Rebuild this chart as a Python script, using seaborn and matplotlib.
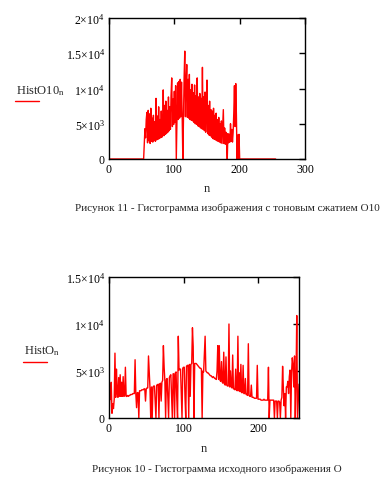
import matplotlib
matplotlib.use("Agg")
import matplotlib.pyplot as plt
from matplotlib.lines import Line2D
import numpy as np
import pandas as pd
import seaborn as sns

# HistO10 - histogram after tonal compression (n = 0..255)
hist_o10 = ([0] * 54 +
    [2200, 4300, 3000, 5600, 6600, 2300, 6900, 2600, 6400, 2200,
     7200, 2500, 5800, 2400, 6200, 2700, 5300, 2500, 8600, 2700,
     6100, 2800, 7400, 2900, 5600, 3000, 6800, 3100, 3400, 9800,
     3300, 7600, 3500, 8200, 3600, 6900, 3800, 8800, 4000, 7400,
     4200, 9000, 11500, 4600, 8500, 4900, 9600, 5200, 10400, 0,
     5400, 10800, 5600, 11000, 5800, 11300, 6000, 10900, 6200, 0,
     6100, 11600, 15300, 6000, 10400, 13400, 5900, 11300, 5800, 12000,
     5600, 9800, 5500, 10600, 5400, 9400, 5200, 10500, 5000, 9000,
     4900, 11500, 4700, 8800, 4600, 9300, 4400, 8600, 4300, 13000,
     4200, 8800, 4000, 9500, 3800, 8000, 11200, 3600, 7600, 3400,
     8200, 3300, 7000, 3100, 6800, 2900, 7200, 2800, 6200, 2700,
     6500, 2600, 5600, 2500, 5900, 2400, 5000, 2300, 5400, 2200,
     4800, 7000, 2200, 4400, 2100, 3800, 2200, 0, 3600, 2300,
     3500, 2400, 5000, 2500, 4200, 2400, 3800, 6500, 10400, 4600,
     10700, 6200, 0, 3400, 0, 3500] +
    [0] * 56)

# HistO - histogram of the source image (n = 0..255)
hist_o = [
    0, 1900, 2000, 3800, 500, 1500, 1000, 2000, 6900, 2200,
    5200, 2800, 2200, 4300, 2300, 4600, 2300, 3800, 2300, 4400,
    2300, 2400, 5400, 2300, 2300, 2400, 2300, 2400, 2400, 2500,
    2500, 2500, 2600, 2600, 2600, 6200, 2600, 1100, 2700, 2700,
    0, 2900, 2900, 2900, 3000, 3000, 3000, 3100, 3100, 1800,
    3100, 3200, 3200, 6600, 4900, 3200, 0, 3300, 0, 3300,
    3400, 3400, 1800, 0, 3500, 3500, 3600, 0, 3600, 3700,
    1800, 3800, 4000, 7700, 5400, 3900, 0, 4100, 4200, 2000,
    0, 4300, 4500, 4600, 2200, 0, 4700, 4700, 0, 4800,
    4900, 2000, 0, 8700, 5100, 5200, 5200, 2400, 0, 5300,
    5400, 5400, 2200, 0, 5500, 5600, 5600, 0, 5700, 2300,
    5700, 5800, 9600, 7600, 0, 5800, 5800, 5800, 5700, 5600,
    5500, 5400, 5300, 5300, 5200, 0, 5000, 4900, 6800, 8700,
    5000, 4900, 4800, 4800, 4700, 4600, 4500, 4500, 4400, 4300,
    4400, 4300, 4200, 4200, 4100, 5000, 7700, 4100, 7700, 4000,
    3900, 6000, 3800, 3700, 7000, 3600, 3500, 6500, 3500, 3400,
    3400, 10000, 3300, 5000, 3300, 3200, 6700, 3100, 3100, 3000,
    5200, 3000, 2900, 8700, 2900, 4800, 2800, 5700, 2700, 2700,
    5600, 2600, 2600, 4200, 2500, 2500, 2400, 7900, 2400, 2300,
    2300, 3500, 2200, 2200, 2200, 2100, 2100, 2100, 2100, 5600,
    2000, 2000, 2000, 2000, 1900, 1900, 1900, 1900, 2000, 1900,
    1900, 1900, 1900, 1900, 5400, 0, 1900, 1900, 1900, 1900,
    1900, 1900, 0, 1800, 1800, 1800, 0, 1800, 1800, 1700,
    0, 1900, 2200, 5500, 3200, 1300, 2600, 0, 3300, 3300,
    3900, 2600, 4400, 5100, 0, 4800, 6400, 5600, 3300, 6600,
    0, 4000, 10900, 0, 1900, 3600]

n_vals = list(range(256))

top_yticks = [0, 5000, 10000, 15000, 20000]
top_ylabels = ["0", r"$\mathregular{5{\times}10^{3}}$", r"$\mathregular{1{\times}10^{4}}$",
               r"$\mathregular{1.5{\times}10^{4}}$", r"$\mathregular{2{\times}10^{4}}$"]
top_xticks = [0, 100, 200, 300]
bot_yticks = [0, 5000, 10000, 15000]
bot_ylabels = top_ylabels[:4]
bot_xticks = [0, 100, 200]

caption_top = "Рисунок 11 - Гистограмма изображения с тоновым сжатием O10"
caption_bot = "Рисунок 10 - Гистограмма исходного изображения O"

sns.set_style("white")
plt.rcParams["font.family"] = ["Liberation Serif", "DejaVu Serif"]
plt.rcParams["mathtext.fontset"] = "custom"
plt.rcParams["mathtext.rm"] = "Liberation Serif"
plt.rcParams["mathtext.it"] = "Liberation Serif"

df_top = pd.DataFrame({"n": n_vals, "v": hist_o10})
df_bot = pd.DataFrame({"n": n_vals, "v": hist_o})

fig = plt.figure(figsize=(3.9, 4.81), dpi=100)
ax1 = fig.add_axes([109 / 390, 1 - 160 / 481, 196 / 390, 141 / 481])
ax2 = fig.add_axes([109 / 390, 1 - 419 / 481, 190 / 390, 141 / 481])


def style(ax, xlim, ylim, xt, yt, yl):
    ax.set_xlim(*xlim)
    ax.set_ylim(*ylim)
    ax.set_xticks(xt)
    ax.set_xticklabels([str(t) for t in xt])
    ax.set_yticks(yt)
    ax.set_yticklabels(yl)
    ax.set_xlabel("")
    ax.set_ylabel("")
    ax.tick_params(direction="in", length=4, width=1, color="black",
                   top=True, right=True, labelsize=8.5, pad=3, labelcolor="black")
    for s in ax.spines.values():
        s.set_color("black")
        s.set_linewidth(1)


sns.lineplot(data=df_top, x="n", y="v", ax=ax1, color="red", linewidth=1)
style(ax1, (0, 300), (0, 20000), top_xticks, top_yticks, top_ylabels)
sns.lineplot(data=df_bot, x="n", y="v", ax=ax2, color="red", linewidth=1)
style(ax2, (0, 255), (0, 15000), bot_xticks, bot_yticks, bot_ylabels)

# legend labels at left
fig.text(16 / 390, 1 - 91 / 481, r"$\mathregular{HistO10_n}$", fontsize=9, ha="left", va="center")
fig.add_artist(Line2D([15 / 390, 39 / 390], [1 - 102 / 481, 1 - 102 / 481], color="red", linewidth=1))
fig.text(24 / 390, 1 - 351 / 481, r"$\mathregular{HistO_n}$", fontsize=9, ha="left", va="center")
fig.add_artist(Line2D([23 / 390, 47 / 390], [1 - 363 / 481, 1 - 363 / 481], color="red", linewidth=1))

# x labels
fig.text(207 / 390, 1 - 189 / 481, "n", fontsize=9, ha="center", va="center")
fig.text(204 / 390, 1 - 449 / 481, "n", fontsize=9, ha="center", va="center")

# captions
fig.text(227 / 390, 1 - 208 / 481, caption_top, fontsize=8, ha="center", va="center")
fig.text(217 / 390, 1 - 469 / 481, caption_bot, fontsize=8, ha="center", va="center")

fig.savefig("out.png", dpi=100, facecolor="white")
